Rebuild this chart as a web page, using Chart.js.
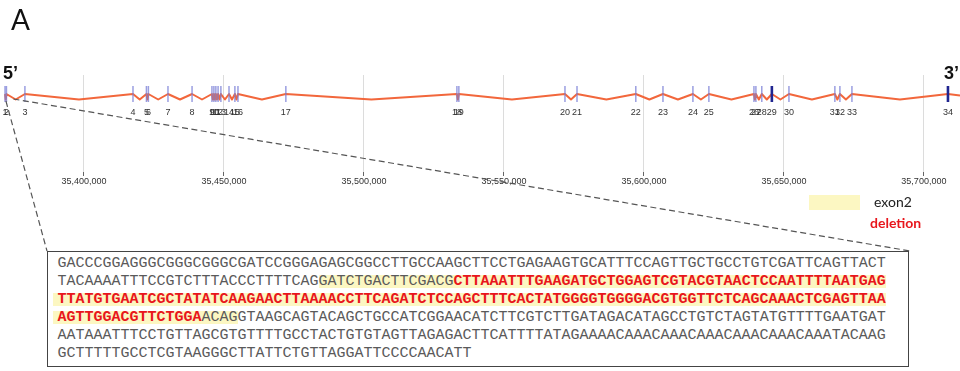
<!DOCTYPE html>
<html>
<head>
<meta charset="utf-8">
<script src="https://cdn.jsdelivr.net/npm/chart.js@4.4.1/dist/chart.umd.min.js"></script>
<style>
  html, body { margin: 0; padding: 0; background: #fff; }
  #wrap { position: relative; width: 960px; height: 371px; overflow: hidden; font-family: Lato, "Liberation Sans", sans-serif; }
  #gene { position: absolute; left: 0; top: 0; }
  .panel { position: absolute; left: 11px; top: 2px; font-size: 28px; line-height: 34px; color: #111; }
  .end { position: absolute; top: 63px; font: bold 18px/20px "Liberation Sans", Arial, sans-serif; color: #111; }
  #seqbox { position: absolute; left: 47px; top: 251px; width: 860px; height: 114px; border: 1.5px solid #444; background: #fff; }
  #seq { position: absolute; left: 9.5px; top: 2.5px; font: 15px/18px "Liberation Mono", "Courier New", monospace; color: #5a5a5a; white-space: pre; }
  .hl { background: linear-gradient(to bottom, transparent 2px, #fcf7c2 2px, #fcf7c2 15px, transparent 15px); }
  .hl.lead { margin-left: -5px; padding-left: 5px; }
  .del { color: #e8161c; font-weight: bold; }
  .key { position: absolute; left: 809px; top: 195px; width: 51px; height: 15px; background: #fcf7c2; }
  .keytxt { position: absolute; font-size: 14px; line-height: 16px; }
</style>
</head>
<body>
<div id="wrap">
  <canvas id="gene" width="960" height="371"></canvas>
  <div class="panel">A</div>
  <div class="end" style="left:3px">5’</div>
  <div class="end" style="left:944px">3’</div>
  <div class="key"></div>
  <div class="keytxt" style="left:874px; top:194px; color:#222;">exon2</div>
  <div class="keytxt" style="left:870px; top:215px; color:#e8161c; font-weight:bold;">deletion</div>
  <div id="seqbox"><div id="seq"></div></div>
</div>
<script>
// Exon numbers and their genomic start coordinates (bp)
const exonNumbers = [1, 2, 3, 4, 5, 6, 7, 8, 9, 10, 11, 12, 13, 14, 15, 16, 17,
  18, 19, 20, 21, 22, 23, 24, 25, 26, 27, 28, 29, 30, 31, 32, 33, 34];
const exonStarts = [35371800, 35372300, 35378900, 35417500, 35422300, 35423000,
  35430000, 35438600, 35445700, 35446400, 35447100, 35447900, 35448900, 35451800,
  35453900, 35455000, 35472100, 35533200, 35533900, 35571800, 35576100, 35597100,
  35606800, 35617500, 35623200, 35639300, 35640000, 35642100, 35645700, 35651800,
  35668200, 35670000, 35674300, 35708600];
// Exons drawn with a heavy dark marker
const strongExons = [29, 34];

// Genomic axis
const axisTicks = [35400000, 35450000, 35500000, 35550000, 35600000, 35650000, 35700000];
const axisMin = 35370000;
const axisMax = 35712900;

// Sequence around exon 2: [text, kind] ('' intron, 'exon' exon 2, 'del' deleted part of exon 2)
const seqRows = [
  [['GACCCGGAGGGCGGGCGGGCGATCCGGGAGAGCGGCCTTGCCAAGCTTCCTGAGAAGTGCATTTCCAGTTGCTGCCTGTCGATTCAGTTACT', '']],
  [['TACAAAATTTCCGTCTTTACCCTTTTCAG', ''], ['GATCTGACTTCGACG', 'exon'], ['CTTAAATTTGAAGATGCTGGAGTCGTACGTAACTCCAATTTTAATGAG', 'del']],
  [['TTATGTGAATCGCTATATCAAGAACTTAAAACCTTCAGATCTCCAGCTTTCACTATGGGGTGGGGACGTGGTTCTCAGCAAACTCGAGTTAA', 'del']],
  [['AGTTGGACGTTCTGGA', 'del'], ['ACAG', 'exon'], ['GTAAGCAGTACAGCTGCCATCGGAACATCTTCGTCTTGATAGACATAGCCTGTCTAGTATGTTTTGAATGAT', '']],
  [['AATAAATTTCCTGTTAGCGTGTTTTGCCTACTGTGTAGTTAGAGACTTCATTTTATAGAAAACAAACAAACAAACAAACAAACAAATACAAG', '']],
  [['GCTTTTTGCCTCGTAAGGGCTTATTCTGTTAGGATTCCCCAACATT', '']]
];

// Build the sequence panel
const seqEl = document.getElementById('seq');
seqRows.forEach(row => {
  const line = document.createElement('div');
  row.forEach(([text, kind], i) => {
    const span = document.createElement('span');
    span.textContent = text;
    if (kind) span.className = 'hl' + (i === 0 ? ' lead' : '') + (kind === 'del' ? ' del' : '');
    line.appendChild(span);
  });
  seqEl.appendChild(line);
});

// Vertical levels inside the track (values on the hidden y scale)
const EXON_LEVEL = 19;
const INTRON_LEVEL = 24.5;
// Zoom-box corners the dashed guides point to
const BOX = { left: 47, right: 910, top: 251 };

const geneTrack = {
  id: 'geneTrack',
  beforeDatasetsDraw(chart) {
    const { ctx, chartArea, scales: { x, y } } = chart;
    const px = exonStarts.map(v => x.getPixelForValue(v));
    const top = y.getPixelForValue(EXON_LEVEL);
    const low = y.getPixelForValue(INTRON_LEVEL);
    ctx.save();
    ctx.strokeStyle = '#f2673c';
    ctx.lineWidth = 2;
    ctx.lineJoin = 'round';
    ctx.beginPath();
    ctx.moveTo(px[0], top);
    for (let i = 1; i < px.length; i++) {
      ctx.lineTo((px[i - 1] + px[i]) / 2, low);
      ctx.lineTo(px[i], top);
    }
    ctx.lineTo(chartArea.right, top + 1.5);
    ctx.stroke();
    ctx.restore();
  },
  afterDatasetsDraw(chart) {
    const { ctx, scales: { x, y } } = chart;
    const ly = y.getPixelForValue(EXON_LEVEL) + 19;
    ctx.save();
    ctx.font = '9px "Liberation Sans", Arial, sans-serif';
    ctx.fillStyle = '#333';
    ctx.textAlign = 'center';
    ctx.textBaseline = 'middle';
    exonNumbers.forEach((n, i) => ctx.fillText(String(n), x.getPixelForValue(exonStarts[i]), ly));
    ctx.restore();
  },
  afterDraw(chart) {
    const { ctx, scales: { x, y } } = chart;
    const ex = x.getPixelForValue(exonStarts[1]);
    const ey = y.getPixelForValue(EXON_LEVEL);
    ctx.save();
    ctx.strokeStyle = '#555';
    ctx.lineWidth = 1.2;
    ctx.setLineDash([6, 3.5]);
    ctx.beginPath();
    ctx.moveTo(ex - 0.5, ey + 7);
    ctx.lineTo(BOX.left, BOX.top);
    ctx.moveTo(ex + 7, ey + 5);
    ctx.lineTo(BOX.right, BOX.top);
    ctx.stroke();
    ctx.restore();
  }
};

new Chart(document.getElementById('gene'), {
  type: 'scatter',
  data: {
    datasets: [{
      data: exonStarts.map(v => ({ x: v, y: EXON_LEVEL })),
      showLine: false,
      pointStyle: 'line',
      rotation: 90,
      pointRadius: 8,
      pointHoverRadius: 8,
      pointBorderWidth: exonNumbers.map(n => strongExons.includes(n) ? 2.6 : 1.5),
      pointBorderColor: exonNumbers.map(n => strongExons.includes(n) ? '#202590' : 'rgba(120,126,214,0.75)')
    }]
  },
  options: {
    responsive: false,
    animation: false,
    devicePixelRatio: 1,
    layout: { autoPadding: false, padding: { top: 75, bottom: 176, left: 0, right: 0 } },
    plugins: { legend: { display: false }, tooltip: { enabled: false } },
    events: [],
    scales: {
      x: {
        type: 'linear',
        min: axisMin,
        max: axisMax,
        border: { display: false },
        grid: { color: '#dcdcdc', lineWidth: 1, tickColor: '#666', tickLength: 4 },
        ticks: {
          stepSize: 50000,
          autoSkip: false,
          maxRotation: 0,
          padding: 0,
          color: '#333',
          font: { family: '"Liberation Sans", Arial, sans-serif', size: 9 },
          callback: v => v.toLocaleString('en-US')
        },
        afterBuildTicks: s => { s.ticks = axisTicks.map(v => ({ value: v })); },
        afterFit: s => { s.height = 23; }
      },
      y: { display: false, min: 0, max: 97, reverse: true }
    }
  },
  plugins: [geneTrack]
});
</script>
</body>
</html>
